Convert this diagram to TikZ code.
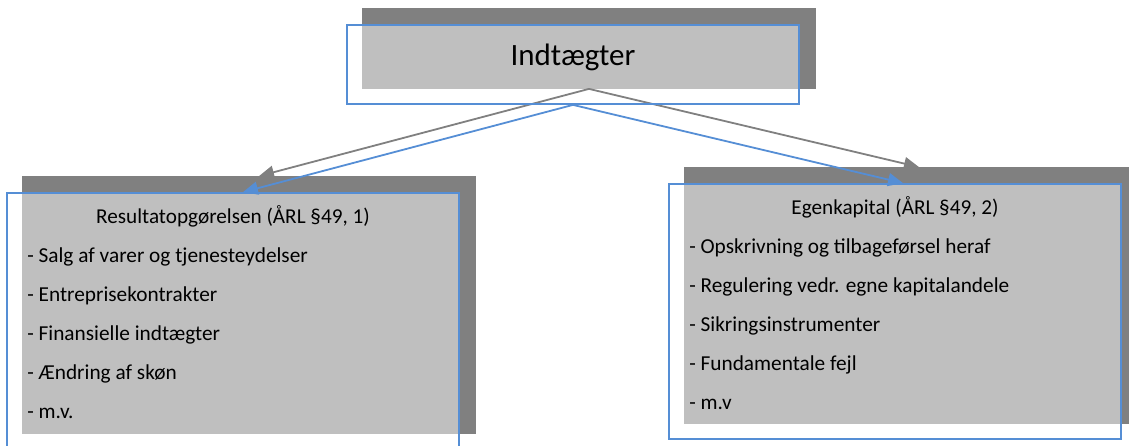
\documentclass[tikz,border=0pt]{standalone}
\usepackage{fontspec}
\setmainfont{Carlito}
\usetikzlibrary{arrows.meta,calc,backgrounds,positioning}

\definecolor{boxgray}{RGB}{191,191,191}
\definecolor{shadegray}{RGB}{128,128,128}
\definecolor{frameblue}{RGB}{85,142,213}

\tikzset{
  boxframe/.style={draw=frameblue, line width=1.8pt, inner sep=0pt, minimum width=452pt},
  headtext/.style={font=\fontsize{31}{37}\selectfont, inner sep=0pt},
  titletext/.style={font=\fontsize{21.2}{25}\selectfont, inner sep=0pt},
  itemtext/.style={font=\fontsize{21.3}{25}\selectfont, inner sep=0pt},
  shadearrow/.style={draw=shadegray, line width=1.8pt, -{Triangle[length=15pt,width=13pt]}},
  bluearrow/.style={draw=frameblue, line width=1.8pt, -{Triangle[length=15pt,width=13pt]}}
}

% dark offset shade plus the gray fill under a frame
\newcommand{\boxshade}[1]{%
  \fill[shadegray] ($(#1.south west)+(16,16)$) rectangle ($(#1.north east)+(16,16)$);
  \fill[boxgray] ($(#1.south west)+(16,16)$) rectangle (#1.north east);}

\begin{document}
\begin{tikzpicture}[x=1pt, y=1pt]
  \useasboundingbox (0,0) rectangle (1129,446);

  \node [boxframe, minimum height=79pt] (top) at (573,381.5) {};
  \node [boxframe, minimum height=256pt] (res) at (233,125) {};
  \node [boxframe, minimum height=255pt] (egen) at (895,134.5) {};

  \coordinate (resin) at ($(res.north)+(10,0)$);
  \coordinate (egenin) at ($(egen.north)+(8,0)$);

  \begin{scope}[on background layer]
    \boxshade{top}
    \boxshade{res}
    \boxshade{egen}
    \draw [shadearrow] ($(top.south)+(16,16)$) -- ($(resin)+(16,16)$);
    \draw [shadearrow] ($(top.south)+(16,16)$) -- ($(egenin)+(16,16)$);
  \end{scope}

  \draw [bluearrow] (top.south) -- (resin);
  \draw [bluearrow] (top.south) -- (egenin);

  \node [headtext, anchor=base] (topttl) at ($(top.north)+(0,-41)$) {Indtægter};

  \node [titletext, anchor=base] (resttl) at ($(res.north)+(0,-31)$) {Resultatopgørelsen (ÅRL §49, 1)};
  \foreach \txt [count=\i] in {Salg af varer og tjenesteydelser, Entreprisekontrakter,
      Finansielle indtægter, Ændring af skøn, m.v.}
    \node [itemtext, anchor=base west] (res-\i) at ($(res.north west)+(21,-31-39*\i)$) {- \txt};

  \node [titletext, anchor=base] (egenttl) at ($(egen.north)+(0,-31)$) {Egenkapital (ÅRL §49, 2)};
  \foreach \txt [count=\i] in {Opskrivning og tilbageførsel heraf, Regulering vedr. egne kapitalandele,
      Sikringsinstrumenter, Fundamentale fejl, m.v}
    \node [itemtext, anchor=base west] (egen-\i) at ($(egen.north west)+(21,-31-39*\i)$) {- \txt};
\end{tikzpicture}
\end{document}
